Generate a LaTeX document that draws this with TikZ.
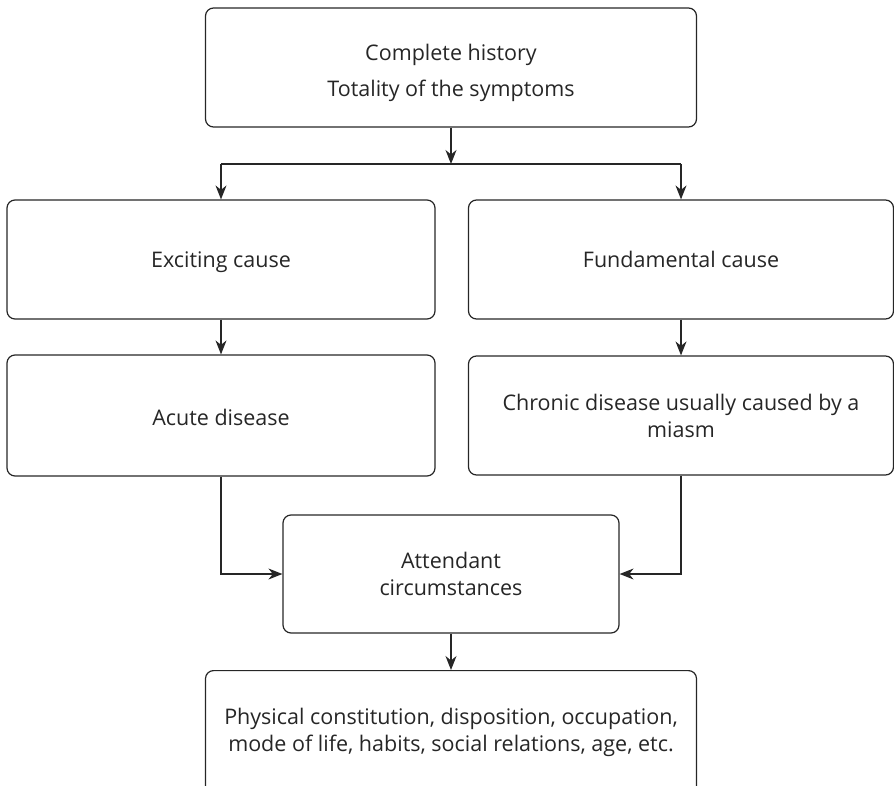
\documentclass[tikz,border=0pt]{standalone}
\usepackage{fontspec}
\setmainfont{Open Sans}
\usetikzlibrary{arrows.meta,calc}
\definecolor{ink}{HTML}{262626}
\begin{document}
\begin{tikzpicture}[x=1pt,y=-1pt,
  every node/.style={font=\fontsize{21.5}{27}\selectfont, text=ink},
  box/.style={draw=ink, line width=1.2pt, rounded corners=8pt, align=center, inner sep=0pt},
  arr/.style={draw=ink, line width=1.2pt, -{Stealth[length=14pt,width=11pt,inset=4.5pt]}},
  link/.style={draw=ink, line width=1.2pt}
]
\useasboundingbox (0,0) rectangle (894,786);
\clip (0,0) rectangle (894,786);

% boxes
\node[box, minimum width=491pt, minimum height=119pt] (top) at (451,67.5) {};
\node[align=center] (toptxt) at (451,72.5)
  {Complete history\\[9pt]Totality of the symptoms};
\node[box, minimum width=428pt, minimum height=119pt] (exc) at (221,259.5)
  {\raisebox{-3pt}[\height][\depth]{Exciting cause}};
\node[box, minimum width=425pt, minimum height=119pt] (fund) at (681,259.5) {Fundamental cause};
\node[box, minimum width=428pt, minimum height=121pt] (acute) at (221,415.5)
  {\raisebox{-2pt}[\height][\depth]{Acute disease}};
\node[box, minimum width=425pt, minimum height=119pt] (chron) at (681,415.5)
  {Chronic disease usually caused by a\\miasm};
\node[box, minimum width=336pt, minimum height=118pt] (att) at (451,574)
  {Attendant\\circumstances};
\node[box, minimum width=491pt, minimum height=150pt, anchor=north] (bot) at (451,670) {};
\node[align=center] (bottxt) at (451,732)
  {Physical constitution, disposition, occupation,\\mode of life, habits, social relations, age, etc.};

% connectors
\coordinate (split) at (451,164);
\draw[arr] (top.south) -- (split);
\draw[link] (exc.north |- split) -- (fund.north |- split);
\draw[arr] (exc.north |- split) -- (exc.north);
\draw[arr] (fund.north |- split) -- (fund.north);
\draw[arr] (exc.south) -- (acute.north);
\draw[arr] (fund.south) -- (chron.north);
\draw[arr] (acute.south) |- (att.west);
\draw[arr] (chron.south) |- (att.east);
\draw[arr] (att.south) -- (bot.north);
\end{tikzpicture}
\end{document}
